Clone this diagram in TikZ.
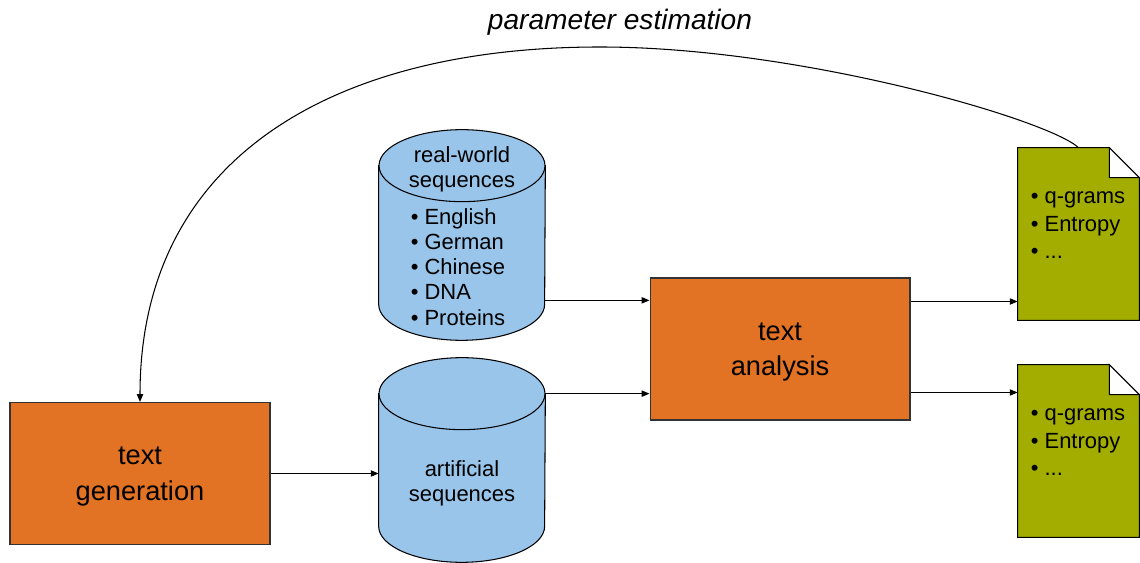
\documentclass[tikz,border=0pt]{standalone}
\usepackage{fontspec}
\setmainfont{Liberation Sans}
\usetikzlibrary{positioning, calc, arrows.meta}

\definecolor{procorange}{RGB}{226,114,36}
\definecolor{dbblue}{RGB}{153,197,234}
\definecolor{docolive}{RGB}{162,173,0}

\tikzset{
	procbox/.style={rectangle, draw=black!80, fill=procorange, line width=0.6pt, minimum width=5.2cm, minimum height=2.84cm},
	proctext/.style={align=center, inner sep=0pt, font=\fontsize{15.5}{20.3}\selectfont},
	dbbody/.style={rectangle, inner sep=0pt, minimum width=3.32cm},
	dbshape/.style={fill=dbblue, draw=black, line width=0.6pt},
	docpage/.style={rectangle, inner sep=0pt, minimum width=2.42cm, minimum height=3.44cm},
	listtext/.style={align=left, inner sep=0pt, font=\fontsize{12.5}{14.3}\selectfont},
	flow/.style={-{Triangle[length=4.5pt,width=3.6pt]}, line width=0.6pt},
}

\begin{document}
\begin{tikzpicture}[x=0.02cm, y=-0.02cm]
			\useasboundingbox (0,0) rectangle (1140,563);

			\node[procbox] (gen) at (140,473.5) {};
			\node[procbox] (ana) at (780,349) {};
			\node[proctext] (gentext) at ([yshift=-0.06cm]gen.center) {text\\generation};
			\node[proctext] (anatext) at ([yshift=-0.06cm]ana.center) {text\\analysis};

			% databases
			\node[dbbody, minimum height=2.76cm] (real) at (462,235) {};
			\node[dbbody, minimum height=2.64cm] (art) at (462,460) {};
			\foreach \db in {real, art} {
				\path[dbshape] (\db.north west) -- (\db.south west)
					arc[start angle=180, end angle=360, x radius=1.66cm, y radius=0.72cm]
					-- (\db.north east) -- cycle;
				\draw[dbshape] (\db.north) ellipse[x radius=1.66cm, y radius=0.72cm];
			}
			\node[listtext, align=center] (realname) at (462,169) {real-world\\sequences};
			\node[listtext] (reallist) at (458,267) {• English\\• German\\• Chinese\\• DNA\\• Proteins};
			\node[listtext, align=center] (artname) at (462,483) {artificial\\sequences};

			% result pages
			\node[docpage] (doca) at (1078.5,234) {};
			\node[docpage] (docb) at (1078.5,451) {};
			\foreach \doc in {doca, docb} {
				\draw[fill=docolive, line width=0.6pt] (\doc.north west) -- ([xshift=-0.6cm]\doc.north east)
					-- ([yshift=-0.6cm]\doc.north east) -- (\doc.south east) -- (\doc.south west) -- cycle;
				\draw[fill=white, line width=0.6pt] ([xshift=-0.6cm]\doc.north east)
					-- ([xshift=-0.6cm, yshift=-0.6cm]\doc.north east) -- ([yshift=-0.6cm]\doc.north east) -- cycle;
			}
			\node[listtext, font=\fontsize{12.5}{15.6}\selectfont] (docalist) at (1078,225.5) {• q-grams\\• Entropy\\• ...};
			\node[listtext, font=\fontsize{12.5}{15.6}\selectfont] (docblist) at (1078,442.5) {• q-grams\\• Entropy\\• ...};

			% connectors
			\coordinate (realout) at ([yshift=0.08cm]real.south east);
			\coordinate (anaup) at ([yshift=0.95cm]ana.east);
			\coordinate (analow) at ([yshift=-0.87cm]ana.east);
			\draw[flow] (gen.east) -- (gen.east -| art.west);
			\draw[flow] (realout) -- (realout -| ana.west);
			\draw[flow] (art.north east) -- (art.north east -| ana.west);
			\draw[flow] (anaup) -- (anaup -| doca.west);
			\draw[flow] (analow) -- (analow -| docb.west);

			% feedback
			\coordinate (peak) at (600,47);
			\draw[flow] (doca.north) .. controls +(-30,-28) and +(200,0) .. (peak)
				.. controls +(-270,0) and +(0,-242) .. (gen.north);
			\node[font=\itshape\fontsize{16}{19}\selectfont] (paramlabel) at (620,22) {parameter estimation};
		\end{tikzpicture}
\end{document}
